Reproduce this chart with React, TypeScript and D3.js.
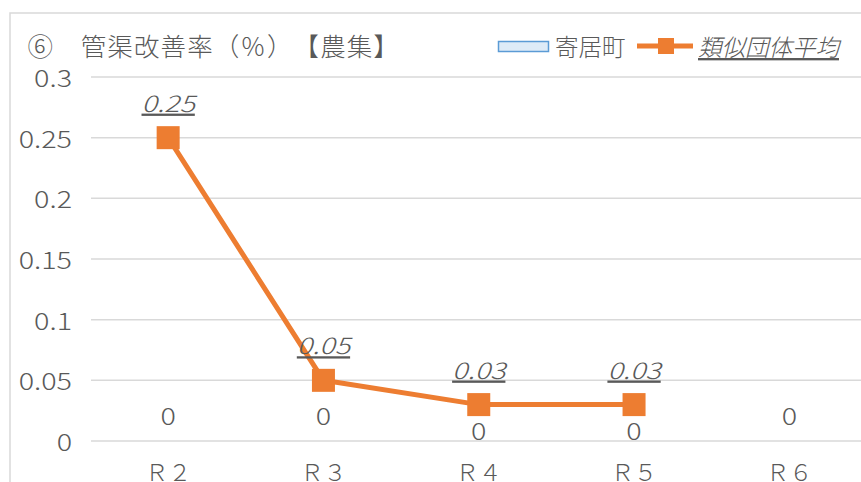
import React from "react";
import * as d3 from "d3";

const categories = ["Ｒ２", "Ｒ３", "Ｒ４", "Ｒ５", "Ｒ６"];
const townValues = [0, 0, 0, 0, 0];
const avgValues: (number | null)[] = [0.25, 0.05, 0.03, 0.03, null];
const yTicks = [0, 0.05, 0.1, 0.15, 0.2, 0.25, 0.3];
const yTickLabels = ["0", "0.05", "0.1", "0.15", "0.2", "0.25", "0.3"];
const title = "⑥　管渠改善率（％）【農集】";
const seriesNames = ["寄居町", "類似団体平均"];

const W = 861;
const H = 482;
const GREY = "#595959";
const GRID = "#D9D9D9";
const ORANGE = "#ED7D31";
const FONT = "'Noto Sans CJK JP', 'Noto Sans', sans-serif";
const NUMX = 1.25;

function Num(props: {
  x: number;
  y: number;
  text: string;
  anchor: "start" | "middle" | "end";
  size: number;
  italic?: boolean;
  underline?: boolean;
}) {
  return (
    <g transform={`translate(${props.x},${props.y}) scale(${NUMX},1)`}>
      <text
        x={0}
        y={0}
        textAnchor={props.anchor}
        dominantBaseline="central"
        fontSize={props.size}
        fontWeight={300}
        fontStyle={props.italic ? "italic" : "normal"}
        textDecoration={props.underline ? "underline" : "none"}
        fill={GREY}
      >
        {props.text}
      </text>
    </g>
  );
}

export default function App() {
  const x = d3.scaleBand<string>().domain(categories).range([90.5, 867]).padding(0);
  const cx = (c: string) => (x(c) as number) + x.bandwidth() / 2;
  const y = d3.scaleLinear().domain([0, 0.3]).range([441, 77]);

  const pts = categories
    .map((c, i) => ({ c, v: avgValues[i] }))
    .filter((d) => d.v !== null) as { c: string; v: number }[];
  const line = d3
    .line<{ c: string; v: number }>()
    .x((d) => cx(d.c))
    .y((d) => y(d.v));

  const titleChars = Array.from(title);
  const cw = 26.6;

  return (
    <svg
      width={W}
      height={H}
      style={{ position: "absolute", left: 0, top: 0, background: "#fff" }}
      fontFamily={FONT}
    >
      <rect x={10} y={13} width={1000} height={600} fill="#fff" stroke={GRID} strokeWidth={1.5} />
      <text y={44} dominantBaseline="central" fontSize={25.5} fontWeight={300} fill={GREY} textAnchor="middle">
        {titleChars.map((ch, i) => (
          <tspan key={i} x={27 + (i + 0.5) * cw}>
            {ch}
          </tspan>
        ))}
      </text>

      {/* legend */}
      <rect x={498.5} y={41.5} width={50} height={10} fill="#DEEBF7" stroke="#5B9BD5" strokeWidth={1.5} />
      <text x={555} y={46} dominantBaseline="central" fontSize={23.5} fontWeight={300} fill={GREY}>
        {seriesNames[0]}
      </text>
      <line x1={637} x2={693} y1={46} y2={46} stroke={ORANGE} strokeWidth={5} />
      <rect x={658} y={38} width={16} height={16} fill={ORANGE} />
      <text
        x={698}
        y={46}
        dominantBaseline="central"
        fontSize={23.5}
        fontWeight={300}
        fill={GREY}
        fontStyle="italic"
        textDecoration="underline"
      >
        {seriesNames[1]}
      </text>

      {/* grid */}
      {yTicks.map((t, i) => (
        <g key={i}>
          <line x1={91} x2={867} y1={y(t)} y2={y(t)} stroke={GRID} strokeWidth={1.5} />
          <Num x={72} y={y(t)} text={yTickLabels[i]} anchor="end" size={23} />
        </g>
      ))}

      {/* x labels */}
      {categories.map((c) => (
        <text
          key={c}
          x={cx(c)}
          y={471}
          textAnchor="middle"
          dominantBaseline="central"
          fontSize={23}
          fontWeight={300}
          fill={GREY}
        >
          {c}
        </text>
      ))}

      {/* town bars (zero) and labels */}
      {categories.map((c, i) => {
        const v = townValues[i];
        const top = y(v);
        let ly = top - 26;
        const a = avgValues[i];
        if (a !== null && Math.abs(y(a) - ly) < 20) ly = top - 11;
        return (
          <g key={"t" + c}>
            <rect x={cx(c) - 40} y={top} width={80} height={y(0) - top} fill="#DEEBF7" stroke="#5B9BD5" />
            <Num x={cx(c)} y={ly} text={String(v)} anchor="middle" size={23} />
          </g>
        );
      })}

      {/* average line */}
      <path d={line(pts) || ""} fill="none" stroke={ORANGE} strokeWidth={5} strokeLinejoin="round" />
      {pts.map((d) => (
        <rect key={"m" + d.c} x={cx(d.c) - 11.5} y={y(d.v) - 11.5} width={23} height={23} fill={ORANGE} />
      ))}
      {pts.map((d) => (
        <Num
          key={"l" + d.c}
          x={cx(d.c)}
          y={y(d.v) - 36}
          text={String(d.v)}
          anchor="middle"
          size={23}
          italic
          underline
        />
      ))}
    </svg>
  );
}
